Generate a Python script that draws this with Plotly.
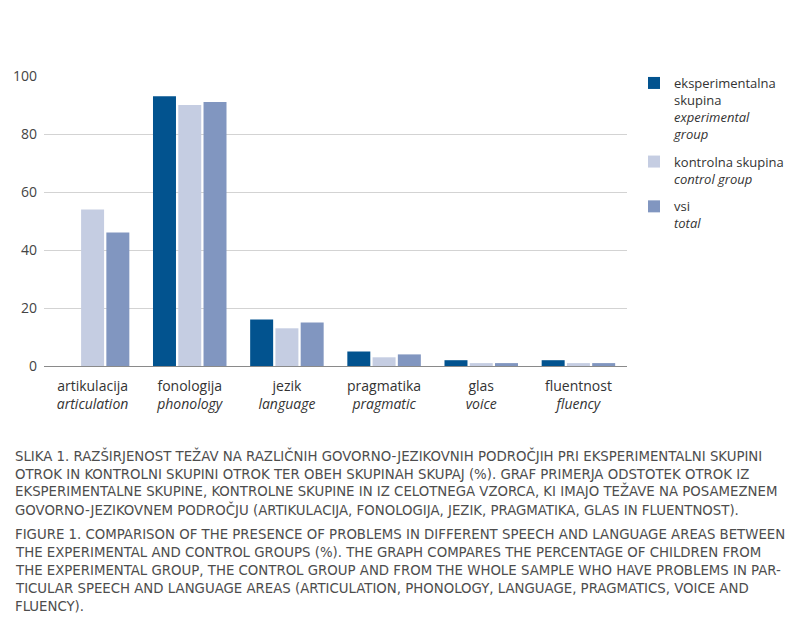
import plotly.graph_objects as go

categories_sl = ["artikulacija", "fonologija", "jezik", "pragmatika", "glas", "fluentnost"]
categories_en = ["articulation", "phonology", "language", "pragmatic", "voice", "fluency"]
experimental = [0, 93, 16, 5, 2, 2]
control = [54, 90, 13, 3, 1, 1]
total = [46, 91, 15, 4, 1, 1]
series_names = [
    "eksperimentalna<br>skupina<br><i>experimental<br>group</i>",
    "kontrolna skupina<br><i>control group</i>",
    "vsi<br><i>total</i>",
]
colors = ["#02538f", "#c5cde2", "#8196c0"]
yticks = [0, 20, 40, 60, 80, 100]

caption_lines = [
    "SLIKA 1. RAZŠIRJENOST TEŽAV NA RAZLIČNIH GOVORNO-JEZIKOVNIH PODROČJIH PRI EKSPERIMENTALNI SKUPINI",
    "OTROK IN KONTROLNI SKUPINI OTROK TER OBEH SKUPINAH SKUPAJ (%). GRAF PRIMERJA ODSTOTEK OTROK IZ",
    "EKSPERIMENTALNE SKUPINE, KONTROLNE SKUPINE IN IZ CELOTNEGA VZORCA, KI IMAJO TEŽAVE NA POSAMEZNEM",
    "GOVORNO-JEZIKOVNEM PODROČJU (ARTIKULACIJA, FONOLOGIJA, JEZIK, PRAGMATIKA, GLAS IN FLUENTNOST).",
    "FIGURE 1. COMPARISON OF THE PRESENCE OF PROBLEMS IN DIFFERENT SPEECH AND LANGUAGE AREAS BETWEEN",
    "THE EXPERIMENTAL AND CONTROL GROUPS (%). THE GRAPH COMPARES THE PERCENTAGE OF CHILDREN FROM",
    "THE EXPERIMENTAL GROUP, THE CONTROL GROUP AND FROM THE WHOLE SAMPLE WHO HAVE PROBLEMS IN PAR-",
    "TICULAR SPEECH AND LANGUAGE AREAS (ARTICULATION, PHONOLOGY, LANGUAGE, PRAGMATICS, VOICE AND",
    "FLUENCY).",
]
caption_y_px = [455, 473, 491, 509, 533, 551, 569, 587, 605]

ticktext = [f"{s}<br><i>{e}</i>" for s, e in zip(categories_sl, categories_en)]

# page body has an 8px margin; compensate
OFF = 8
W, H = 800 - 2 * OFF, 632 - 2 * OFF
left, right = 44 - OFF, 627 - OFF
top, bottom = 76 - OFF, 366 - OFF
plot_w = right - left
plot_h = bottom - top

fig = go.Figure()
for i, (name, vals, col) in enumerate(zip(series_names, [experimental, control, total], colors)):
    fig.add_trace(go.Bar(x=categories_sl, y=vals, name=name, marker_color=col,
                         marker_line_width=0, legendgroup=f"g{i}"))

anns = []
for line, ypx in zip(caption_lines, caption_y_px):
    anns.append(dict(text=line, xref="paper", yref="paper",
                     x=(13 - OFF - left) / plot_w, y=(bottom - (ypx - OFF)) / plot_h,
                     xanchor="left", yanchor="middle", showarrow=False,
                     font=dict(family="DejaVu Sans Condensed, Liberation Sans Narrow, sans-serif",
                               size=14.8, color="#4d4d4d")))

fig.update_layout(
    width=W, height=H,
    margin=dict(l=left, r=W - right, t=top, b=H - bottom, pad=0, autoexpand=False),
    paper_bgcolor="white", plot_bgcolor="white",
    barmode="group", bargap=0.22, bargroupgap=0.09,
    font=dict(family="Open Sans, Noto Sans, sans-serif", size=14, color="#333333"),
    legend=dict(x=(634 - OFF - left) / plot_w, xref="paper",
                y=1 + 8 / plot_h, yref="paper", xanchor="left",
                yanchor="top", valign="top", tracegroupgap=8,
                font=dict(size=13, color="#333333"),
                traceorder="grouped"),
    annotations=anns,
    xaxis=dict(tickmode="array", tickvals=categories_sl, ticktext=ticktext,
               showline=False, ticks="", tickfont=dict(size=14), ticklabelstandoff=10),
    yaxis=dict(range=[0, 100], tickvals=yticks, showgrid=True, gridcolor="#d3d3d3",
               gridwidth=1, zeroline=True, zerolinecolor="#8a8a8a", zerolinewidth=1,
               ticks="", tickfont=dict(size=14, color="#444444"), ticklabelstandoff=6),
)

fig.write_html("out.html")
